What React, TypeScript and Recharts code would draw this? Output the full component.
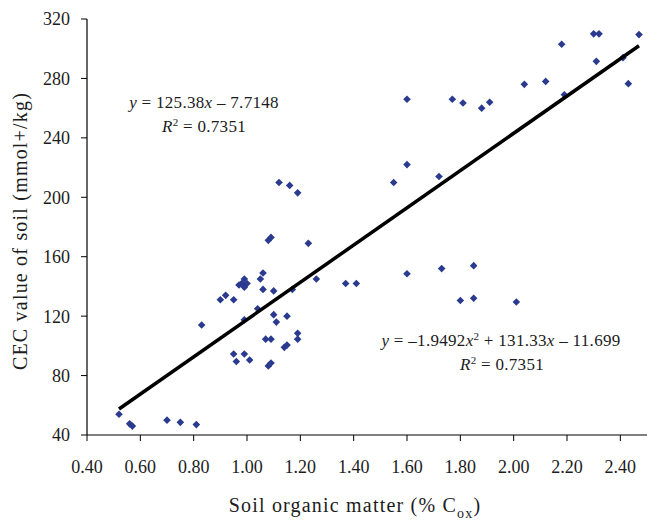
import React from 'react';
import { ScatterChart, Scatter, XAxis, YAxis, Label } from 'recharts';

const organicMatter = [
  0.52, 0.56, 0.57, 0.70, 0.75, 0.81, 0.83, 0.90, 0.92, 0.95,
  0.97, 0.98, 0.99, 0.99, 1.00, 0.99, 1.04, 1.05, 1.06, 1.06,
  1.10, 1.17, 1.26, 1.10, 1.11, 1.15, 1.07, 1.09, 1.19, 1.19,
  1.14, 1.15, 0.95, 0.99, 0.96, 1.01, 1.08, 1.09, 1.08, 1.09,
  1.23, 1.12, 1.16, 1.19, 1.37, 1.41, 1.60, 1.73, 1.85, 1.80,
  1.85, 2.01, 1.55, 1.60, 1.72, 1.60, 1.77, 1.81, 1.88, 1.91,
  2.04, 2.12, 2.18, 2.19, 2.30, 2.32, 2.31, 2.41, 2.43, 2.47,
];

const cecValue = [
  54, 47.5, 46, 50, 48.5, 47, 114, 131, 134, 131,
  141, 142, 145, 139.5, 142, 117.5, 125, 145, 149, 138,
  137, 138, 145, 121, 116, 120, 104.5, 104.5, 108.5, 104.5,
  99, 100.5, 94.5, 94.5, 89.5, 90.5, 86.5, 88.5, 171, 173,
  169, 210, 208, 203, 142, 142, 148.5, 152, 154, 130.5,
  132, 129.5, 210, 222, 214, 266, 266, 263.5, 260, 264,
  276, 278, 303, 269, 310, 310, 291.5, 294, 276.5, 309.5,
];

const xTicks = [0.4, 0.6, 0.8, 1.0, 1.2, 1.4, 1.6, 1.8, 2.0, 2.2, 2.4];
const yTicks = [40, 80, 120, 160, 200, 240, 280, 320];

const trendX = [0.52, 2.47];
const trendY = [57.5, 302.0];

const points = organicMatter.map((x, i) => ({ x, y: cecValue[i] }));
const trendLine = trendX.map((x, i) => ({ x, y: trendY[i] }));

const FONT = 'Liberation Serif';
const TEXT = '#1c1c1c';
const MARK = '#2A3B8F';

const Diamond = (props: any) => {
  const { cx, cy } = props;
  if (cx == null || cy == null) return null;
  const r = 3.8;
  return (
    <polygon
      points={`${cx},${cy - r} ${cx + r},${cy} ${cx},${cy + r} ${cx - r},${cy}`}
      fill={MARK}
    />
  );
};

const NoShape = () => null;

const YTitle = (props: any) => {
  const vb = props.viewBox || { x: 0, y: 19, width: 87, height: 416 };
  const cx = vb.x + 26.7;
  const cy = vb.y + vb.height / 2 + 4;
  return (
    <text
      x={cx}
      y={cy}
      transform={`rotate(-90, ${cx}, ${cy})`}
      textAnchor="middle"
      style={{ fontFamily: FONT, fontSize: 20, letterSpacing: 1.2 }}
      fill={TEXT}
    >
      CEC value of soil (mmol+/kg)
    </text>
  );
};

const XTitle = (props: any) => {
  const vb = props.viewBox || { x: 87, y: 435, width: 560, height: 85 };
  const cx = vb.x + vb.width / 2 - 12;
  const cy = vb.y + 77;
  return (
    <text
      x={cx}
      y={cy}
      textAnchor="middle"
      style={{ fontFamily: FONT, fontSize: 20, letterSpacing: 1.2 }}
      fill={TEXT}
    >
      <tspan>Soil organic matter (% C</tspan>
      <tspan style={{ fontSize: 14 }} dy={6}>ox</tspan>
      <tspan dy={-6}>)</tspan>
    </text>
  );
};

export default function App() {
  return (
    <div style={{ position: 'absolute', left: 0, top: 0, width: 647, height: 520, background: '#fff', fontFamily: FONT }}>
      <ScatterChart
        width={647}
        height={520}
        margin={{ top: 19, right: 0, bottom: 0, left: 0 }}
        style={{ fontFamily: FONT }}
      >
        <XAxis
          type="number"
          dataKey="x"
          domain={[0.4, 2.5]}
          ticks={xTicks}
          tickFormatter={(v: number) => v.toFixed(2)}
          height={85}
          tickSize={6}
          tickMargin={19}
          axisLine={{ stroke: '#000', strokeWidth: 1.2 }}
          tickLine={{ stroke: '#000' }}
          tick={{ fill: TEXT, fontSize: 18, style: { fontFamily: FONT } }}
          allowDataOverflow
        >
          <Label content={<XTitle />} />
        </XAxis>
        <YAxis
          type="number"
          dataKey="y"
          domain={[40, 320]}
          ticks={yTicks}
          width={87}
          tickSize={6}
          tickMargin={11}
          axisLine={{ stroke: '#000', strokeWidth: 1.2 }}
          tickLine={{ stroke: '#000' }}
          tick={{ fill: TEXT, fontSize: 18, style: { fontFamily: FONT } }}
          allowDataOverflow
        >
          <Label content={<YTitle />} />
        </YAxis>
        <Scatter data={points} shape={<Diamond />} isAnimationActive={false} />
        <Scatter
          data={trendLine}
          line={{ stroke: '#000', strokeWidth: 3.5 }}
          shape={<NoShape />}
          isAnimationActive={false}
        />
      </ScatterChart>
      <svg
        width={647}
        height={520}
        style={{ position: 'absolute', left: 0, top: 0, pointerEvents: 'none', fontFamily: FONT }}
      >
        <g style={{ fontFamily: FONT, fontSize: 17, letterSpacing: 0.3 }} fill={TEXT}>
          <text x={204} y={108} textAnchor="middle">
            <tspan fontStyle="italic">y</tspan>
            <tspan> = 125.38</tspan>
            <tspan fontStyle="italic">x</tspan>
            <tspan> – 7.7148</tspan>
          </text>
          <text x={204} y={132} textAnchor="middle">
            <tspan fontStyle="italic">R</tspan>
            <tspan style={{ fontSize: 11 }} dy={-6}>2</tspan>
            <tspan dy={6}> = 0.7351</tspan>
          </text>
          <text x={501} y={346} textAnchor="middle">
            <tspan fontStyle="italic">y</tspan>
            <tspan> = –1.9492</tspan>
            <tspan fontStyle="italic">x</tspan>
            <tspan style={{ fontSize: 11 }} dy={-6}>2</tspan>
            <tspan dy={6}> + 131.33</tspan>
            <tspan fontStyle="italic">x</tspan>
            <tspan> – 11.699</tspan>
          </text>
          <text x={502} y={370} textAnchor="middle">
            <tspan fontStyle="italic">R</tspan>
            <tspan style={{ fontSize: 11 }} dy={-6}>2</tspan>
            <tspan dy={6}> = 0.7351</tspan>
          </text>
        </g>
      </svg>
    </div>
  );
}
